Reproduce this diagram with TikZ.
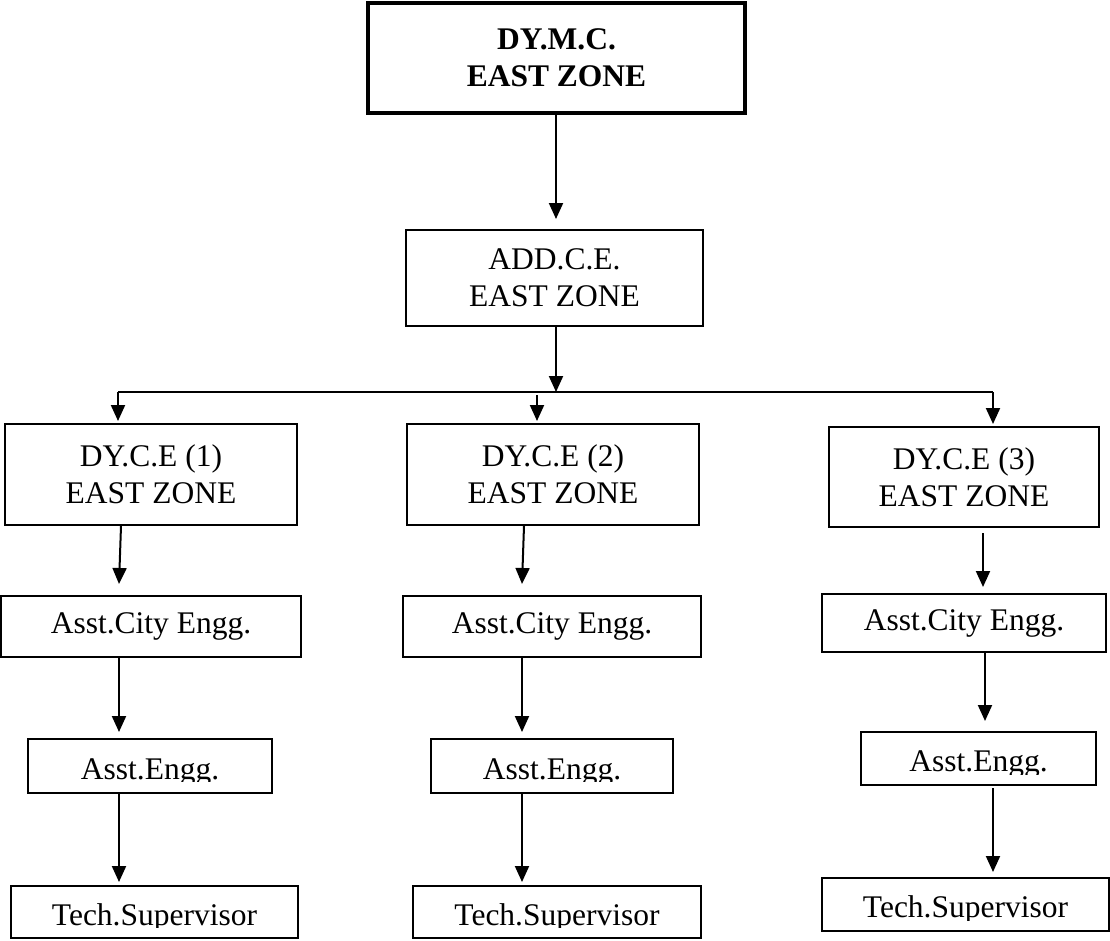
\documentclass[tikz,border=0pt]{standalone}
\usepackage{fontspec}
\setmainfont{Liberation Serif}
\usepackage{trimclip}
\usepackage{tikz}
\usetikzlibrary{arrows.meta}

% cut the descenders the way the boxes do
\newcommand{\lowcut}[1]{\clipbox{0pt 4pt 0pt 0pt}{#1}}

\begin{document}
\begin{tikzpicture}[
    x=1pt, y=-1pt,
    post/.style={rectangle, draw, line width=2pt, inner sep=0pt, align=center, font=\fontsize{31.5}{37}\selectfont},
    head/.style={post, line width=3.2pt, font=\fontsize{31.5}{37}\selectfont\bfseries},
    low/.style={text height=26pt, text depth=0pt},
    arrow/.style={-{Triangle[length=16pt, width=14pt]}, line width=2pt}
]
\useasboundingbox (0,0) rectangle (1110,940);

% Nodes
\node (dmc) [head, minimum width=377pt, minimum height=110pt] at (556.5,58) {DY.M.C.\\EAST ZONE};
\node (addce) [post, minimum width=297pt, minimum height=96pt] at (554.5,278) {ADD.C.E.\\EAST ZONE};

\node (ce1) [post, minimum width=292pt, minimum height=101pt] at (151,474.5) {DY.C.E (1)\\EAST ZONE};
\node (ce2) [post, minimum width=292pt, minimum height=101pt] at (553,474.5) {DY.C.E (2)\\EAST ZONE};
\node (ce3) [post, minimum width=270pt, minimum height=100pt] at (964,477) {DY.C.E (3)\\EAST ZONE};

\node (ace1) [post, minimum width=300pt, minimum height=61pt] at (151,626.5) {Asst.City Engg.};
\node (ace2) [post, minimum width=298pt, minimum height=61pt] at (552,626.5) {Asst.City Engg.};
\node (ace3) [post, minimum width=284pt, minimum height=58pt] at (964,623) {Asst.City Engg.};

\node (ae1) [post, low, minimum width=244pt, minimum height=54pt] at (150,766) {\lowcut{Asst.Engg.}};
\node (ae2) [post, low, minimum width=242pt, minimum height=54pt] at (552,766) {\lowcut{Asst.Engg.}};
\node (ae3) [post, low, minimum width=235pt, minimum height=53pt] at (978.5,758.5) {\lowcut{Asst.Engg.}};

\node (ts1) [post, low, minimum width=287pt, minimum height=52pt] at (154.5,912) {\lowcut{Tech.Supervisor}};
\node (ts2) [post, low, minimum width=288pt, minimum height=52pt] at (557,912) {\lowcut{Tech.Supervisor}};
\node (ts3) [post, low, minimum width=287pt, minimum height=53pt] at (965.5,904.5) {\lowcut{Tech.Supervisor}};

\coordinate (bus) at (556,392);
\coordinate (busL) at (118,392);
\coordinate (busR) at (993,392);
\coordinate (drop2) at (537,395);

% Arrows
\draw [arrow] (bus |- dmc.south) -- ([yshift=10pt]bus |- addce.north);
\draw [arrow] (bus |- addce.south) -- (bus);
\draw [line width=2pt] (busL) -- (busR);
\draw [arrow, shorten >=2pt] (busL) -- (busL |- ce1.north);
\draw [arrow, shorten >=2pt] (drop2) -- (drop2 |- ce2.north);
\draw [arrow, shorten >=2pt] (busR) -- (busR |- ce3.north);

\draw [arrow] ([xshift=-30pt]ce1.south) -- ([xshift=-32pt, yshift=11pt]ace1.north);
\draw [arrow] ([xshift=-32pt]ace1.south) -- ([xshift=-31pt, yshift=6pt]ae1.north);
\draw [arrow] ([xshift=-31pt]ae1.south) -- ([xshift=-35.5pt, yshift=3pt]ts1.north);

\draw [arrow] ([xshift=-29pt]ce2.south) -- ([xshift=-30pt, yshift=11pt]ace2.north);
\draw [arrow] ([xshift=-30pt]ace2.south) -- ([xshift=-30pt, yshift=6pt]ae2.north);
\draw [arrow] ([xshift=-30pt]ae2.south) -- ([xshift=-35pt, yshift=3pt]ts2.north);

\draw [arrow] ([xshift=19pt, yshift=-5pt]ce3.south) -- ([xshift=19pt, yshift=6pt]ace3.north);
\draw [arrow] ([xshift=21pt]ace3.south) -- ([xshift=6.5pt, yshift=10pt]ae3.north);
\draw [arrow] ([xshift=14.5pt, yshift=-2pt]ae3.south) -- ([xshift=27.5pt, yshift=5pt]ts3.north);

\end{tikzpicture}
\end{document}
